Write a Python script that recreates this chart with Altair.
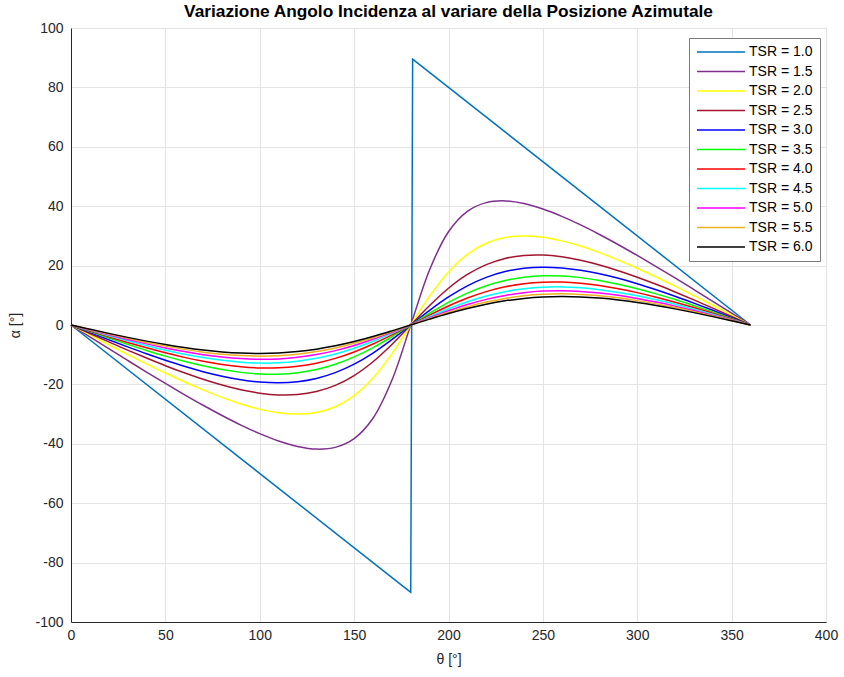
import altair as alt
import pandas as pd

# azimuthal position (deg)
theta = [0, 10, 20, 30, 40, 50, 60, 70, 80, 90, 100, 110, 120, 130, 140, 150, 160, 170, 180,
         190, 200, 210, 220, 230, 240, 250, 260, 270, 280, 290, 300, 310, 320, 330, 340, 350, 360]

# TSR = 1.0 (piecewise straight)
theta_tsr10 = [0, 90, 179, 180, 181, 182, 270, 360]
alpha_tsr10 = [0, -45, -89.5, -90, 89.5, 89.0, 45, 0]

alpha_tsr15 = [0, -4.00, -7.98, -11.93, -15.84, -19.67, -23.41, -27.03, -30.47, -33.69, -36.59, -39.06, -40.89, -41.79, -41.21, -38.26, -31.40, -18.63, 0,
               18.63, 31.40, 38.26, 41.21, 41.79, 40.89, 39.06, 36.59, 33.69, 30.47, 27.03, 23.41, 19.67, 15.84, 11.93, 7.98, 4.00, 0]
alpha_tsr20 = [0, -3.33, -6.64, -9.90, -13.08, -16.17, -19.11, -21.86, -24.38, -26.57, -28.33, -29.54, -30.00, -29.44, -27.51, -23.79, -17.88, -9.71, 0,
               9.71, 17.88, 23.79, 27.51, 29.44, 30.00, 29.54, 28.33, 26.57, 24.38, 21.86, 19.11, 16.17, 13.08, 9.90, 6.64, 3.33, 0]
alpha_tsr25 = [0, -2.85, -5.68, -8.45, -11.13, -13.70, -16.10, -18.29, -20.22, -21.80, -22.94, -23.53, -23.41, -22.42, -20.34, -17.01, -12.36, -6.54, 0,
               6.54, 12.36, 17.01, 20.34, 22.42, 23.41, 23.53, 22.94, 21.80, 20.22, 18.29, 16.10, 13.70, 11.13, 8.45, 5.68, 2.85, 0]
alpha_tsr30 = [0, -2.50, -4.96, -7.37, -9.69, -11.87, -13.90, -15.71, -17.24, -18.43, -19.21, -19.47, -19.11, -18.01, -16.05, -13.18, -9.43, -4.92, 0,
               4.92, 9.43, 13.18, 16.05, 18.01, 19.11, 19.47, 19.21, 18.43, 17.24, 15.71, 13.90, 11.87, 9.69, 7.37, 4.96, 2.50, 0]
alpha_tsr35 = [0, -2.22, -4.41, -6.53, -8.57, -10.48, -12.21, -13.74, -15.01, -15.95, -16.49, -16.57, -16.10, -15.01, -13.23, -10.75, -7.61, -3.95, 0,
               3.95, 7.61, 10.75, 13.23, 15.01, 16.10, 16.57, 16.49, 15.95, 15.01, 13.74, 12.21, 10.48, 8.57, 6.53, 4.41, 2.22, 0]
alpha_tsr40 = [0, -2.00, -3.96, -5.87, -7.68, -9.37, -10.90, -12.21, -13.28, -14.04, -14.44, -14.41, -13.90, -12.85, -11.24, -9.07, -6.38, -3.30, 0,
               3.30, 6.38, 9.07, 11.24, 12.85, 13.90, 14.41, 14.44, 14.04, 13.28, 12.21, 10.90, 9.37, 7.68, 5.87, 3.96, 2.00, 0]
alpha_tsr45 = [0, -1.81, -3.60, -5.32, -6.96, -8.47, -9.83, -10.98, -11.90, -12.53, -12.82, -12.74, -12.21, -11.23, -9.77, -7.83, -5.49, -2.83, 0,
               2.83, 5.49, 7.83, 9.77, 11.23, 12.21, 12.74, 12.82, 12.53, 11.90, 10.98, 9.83, 8.47, 6.96, 5.32, 3.60, 1.81, 0]
alpha_tsr50 = [0, -1.66, -3.30, -4.87, -6.36, -7.73, -8.95, -9.98, -10.78, -11.31, -11.53, -11.41, -10.89, -9.97, -8.63, -6.90, -4.82, -2.48, 0,
               2.48, 4.82, 6.90, 8.63, 9.97, 10.89, 11.41, 11.53, 11.31, 10.78, 9.98, 8.95, 7.73, 6.36, 4.87, 3.30, 1.66, 0]
alpha_tsr55 = [0, -1.53, -3.04, -4.49, -5.86, -7.11, -8.21, -9.14, -9.85, -10.30, -10.48, -10.32, -9.83, -8.96, -7.73, -6.16, -4.29, -2.20, 0,
               2.20, 4.29, 6.16, 7.73, 8.96, 9.83, 10.32, 10.48, 10.30, 9.85, 9.14, 8.21, 7.11, 5.86, 4.49, 3.04, 1.53, 0]
alpha_tsr60 = [0, -1.42, -2.82, -4.17, -5.43, -6.58, -7.59, -8.43, -9.06, -9.46, -9.59, -9.43, -8.95, -8.14, -7.00, -5.56, -3.87, -1.98, 0,
               1.98, 3.87, 5.56, 7.00, 8.14, 8.95, 9.43, 9.59, 9.46, 9.06, 8.43, 7.59, 6.58, 5.43, 4.17, 2.82, 1.42, 0]

labels = ["TSR = 1.0", "TSR = 1.5", "TSR = 2.0", "TSR = 2.5", "TSR = 3.0", "TSR = 3.5",
          "TSR = 4.0", "TSR = 4.5", "TSR = 5.0", "TSR = 5.5", "TSR = 6.0"]
colors = ["#0072BD", "#7E2F8E", "#FFFF00", "#A2142F", "#0000FF", "#00FF00",
          "#FF0000", "#00FFFF", "#FF00FF", "#EDB120", "#000000"]

smooth = [alpha_tsr15, alpha_tsr20, alpha_tsr25, alpha_tsr30, alpha_tsr35,
          alpha_tsr40, alpha_tsr45, alpha_tsr50, alpha_tsr55, alpha_tsr60]

rows1 = [{"theta": t, "alpha": a, "serie": labels[0], "k": 0}
         for t, a in zip(theta_tsr10, alpha_tsr10)]
rows2 = []
for i, vals in enumerate(smooth):
    for t, a in zip(theta, vals):
        rows2.append({"theta": t, "alpha": a, "serie": labels[i + 1], "k": i + 1})
df1 = pd.DataFrame(rows1)
df2 = pd.DataFrame(rows2)

FONT = "Liberation Sans"

x_enc = alt.X("theta:Q", scale=alt.Scale(domain=[0, 400], nice=False),
              axis=alt.Axis(values=list(range(0, 401, 50)), title="θ [°]",
                            labelExpr="'' + datum.value"))
y_enc = alt.Y("alpha:Q", scale=alt.Scale(domain=[-100, 100], nice=False),
              axis=alt.Axis(values=list(range(-100, 101, 20)), title="α [°]",
                            labelExpr="'' + datum.value"))
color_enc = alt.Color(
    "serie:N",
    scale=alt.Scale(domain=labels, range=colors),
    legend=alt.Legend(
        orient="none", legendX=618, legendY=10, title=None,
        symbolType="M-1,0H7", symbolSize=144, symbolStrokeWidth=1.5,
        labelFontSize=14, labelFont=FONT, labelColor="#000000",
        labelOffset=39, rowPadding=5.5, padding=7,
        strokeColor="#7a7a7a", fillColor="#ffffff",
    ),
)

base1 = alt.Chart(df1).mark_line(strokeWidth=1.5, interpolate="linear").encode(
    x=x_enc, y=y_enc, color=color_enc, order="k:Q")
base2 = alt.Chart(df2).mark_line(strokeWidth=1.5, interpolate="catmull-rom").encode(
    x=x_enc, y=y_enc, color=color_enc, order="theta:Q")

chart = alt.layer(base1, base2).properties(
    width=755, height=594,
    title=alt.TitleParams("Variazione Angolo Incidenza al variare della Posizione Azimutale",
                          font=FONT, fontSize=17.3, fontWeight="bold", color="#000000",
                          offset=1, anchor="middle"),
    autosize=alt.AutoSizeParams(type="none"),
    padding={"left": 71, "top": 28, "right": 18, "bottom": 55},
).configure(font=FONT).configure_view(
    stroke="#e3e3e3", strokeWidth=1
).configure_axis(
    labelFont=FONT, labelFontSize=14, labelColor="#262626", labelFlush=False,
    titleFont=FONT, titleFontSize=14, titleColor="#262626", titleFontWeight="normal",
    domainColor="#262626", domainWidth=1,
    gridColor="#e3e3e3", gridWidth=1, gridOpacity=1,
    ticks=False, tickSize=0,
).configure_axisX(
    labelPadding=6, titlePadding=10,
).configure_axisY(
    labelPadding=8, titlePadding=12,
)

chart.save("out.html", embed_options={"renderer": "svg", "actions": False})
